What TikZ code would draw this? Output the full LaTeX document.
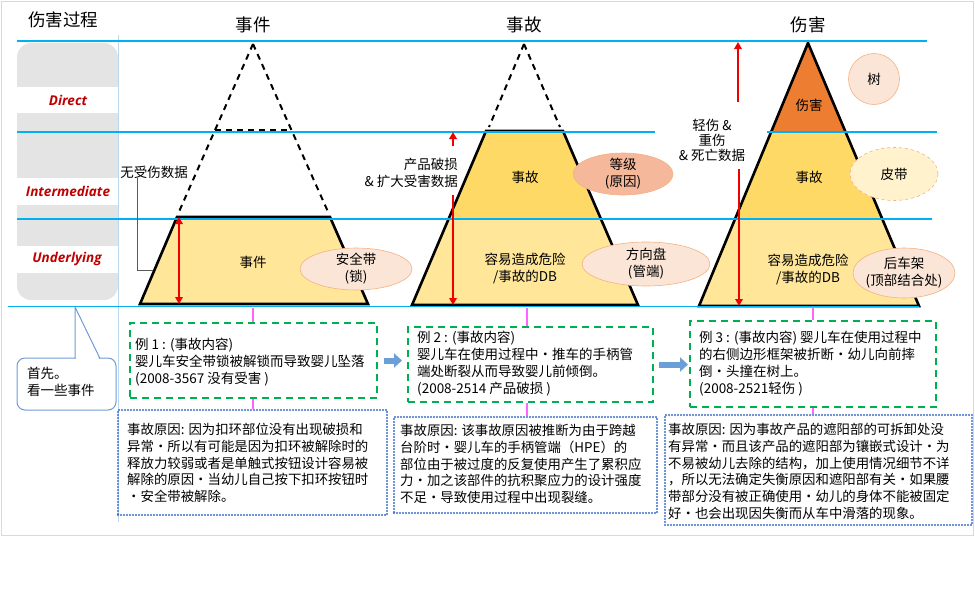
\documentclass[tikz,border=0pt]{standalone}
\usepackage{fontspec}
\setmainfont{Noto Sans CJK SC}
\newfontfamily\labfont{Open Sans}
\usetikzlibrary{arrows.meta,shapes.geometric}
\definecolor{skyline}{HTML}{00B0F0}
\definecolor{vline}{HTML}{BDD7EE}
\definecolor{framec}{HTML}{D9D9D9}
\definecolor{graycol}{HTML}{E4E4E4}
\definecolor{labred}{HTML}{C00000}
\definecolor{ylight}{HTML}{FFE699}
\definecolor{ymid}{HTML}{FFD966}
\definecolor{orangetop}{HTML}{ED7D31}
\definecolor{ellfill}{HTML}{FBE5D6}
\definecolor{ellline}{HTML}{F4B183}
\definecolor{ellsalmon}{HTML}{F5B89A}
\definecolor{ellyel}{HTML}{FFF2CC}
\definecolor{boxgreen}{HTML}{00B050}
\definecolor{boxblue}{HTML}{3F6FC8}
\definecolor{pinkc}{HTML}{FF66FF}
\definecolor{arrblue}{HTML}{6A9FD8}
\definecolor{callc}{HTML}{6F9BD6}
\definecolor{connc}{HTML}{595959}
\definecolor{redc}{HTML}{F00000}
\begin{document}
\begin{tikzpicture}[x=1pt,y=-1pt,
  txt/.style={font=\fontsize{13.5}{17}\selectfont, inner sep=0pt, align=left},
  ctxt/.style={font=\fontsize{13.5}{17}\selectfont, inner sep=0pt, align=center},
  btxt/.style={font=\fontsize{13.4}{16.8}\selectfont, inner sep=0pt, align=left},
  ttl/.style={font=\fontsize{17.5}{20}\selectfont, inner sep=0pt},
  lab/.style={font={\labfont\bfseries\itshape\fontsize{13.5}{16}\selectfont}, text=labred, inner sep=0pt},
  ell/.style={ellipse, draw=ellline, line width=0.6pt, fill=ellfill, inner sep=0pt},
  greenbox/.style={draw=boxgreen, line width=2pt, dash pattern=on 7pt off 5pt, inner sep=0pt},
  bluebox/.style={draw=boxblue, line width=2.1pt, dash pattern=on 0pt off 3pt, line cap=round, inner sep=0pt},
  pinkline/.style={draw=pinkc, line width=2pt},
  redarr/.style={draw=redc, line width=2.3pt, -{Triangle[length=7pt,width=7.5pt]}},
  redarr2/.style={draw=redc, line width=2.3pt, {Triangle[length=7pt,width=7.5pt]}-{Triangle[length=7pt,width=7.5pt]}},
  bluearrow/.style={draw=arrblue, line width=6pt, -{Triangle[length=8pt,width=14pt]}},
  skyl/.style={draw=skyline, line width=1.2pt},
  pyr/.style={draw=black, line width=2.6pt, line join=miter},
  pyrsep/.style={draw=black!80, line width=1.4pt},
  dashl/.style={draw=black, line width=2pt, dash pattern=on 6pt off 5pt},
  conn/.style={draw=connc, line width=1pt}]
\useasboundingbox (0,0) rectangle (975,600);
% frame
\draw[framec, line width=1pt] (1,1) rectangle (973,535);
% left label column
\fill[graycol, rounded corners=14pt] (17,43) rectangle (118,300);
\fill[white] (17,87) rectangle (118,113);
\fill[white] (17,178) rectangle (118,205);
\fill[white] (17,246) rectangle (118,273);
\draw[vline, line width=0.8pt] (118,35) -- (118,522);
\node[lab] (ldir) at (68,100) {Direct};
\node[lab] (lint) at (68,191) {Intermediate};
\node[lab] (lund) at (67,259) {Underlying};
% titles
\node[ttl] (t0) at (63,20) {伤害过程};
\node[ttl] (t1) at (253,25) {事件};
\node[ttl] (t2) at (524,25) {事故};
\node[ttl] (t3) at (808,25) {伤害};
% pyramid 1
\fill[ylight] (177,217) -- (330,217) -- (368,304) -- (140,304) -- cycle;
\draw[dashl] (253,44) -- (178,214);
\draw[dashl] (253,44) -- (329,214);
\draw[dashl] (215,130) -- (291,130);
\draw[pyr] (177,217) -- (330,217) -- (368,304) -- (140,304) -- cycle;
% pyramid 2
\fill[ymid] (486,131) -- (563,131) -- (600,218) -- (449,218) -- cycle;
\fill[ylight] (449,218) -- (600,218) -- (638,305) -- (412,305) -- cycle;
\draw[dashl] (524,44) -- (489,127);
\draw[dashl] (524,44) -- (560,127);
\draw[pyrsep] (449,219.5) -- (600,219.5);
\draw[pyr] (486,131) -- (563,131) -- (638,305) -- (412,305) -- cycle;
% pyramid 3
\fill[orangetop] (808,43) -- (845,132) -- (771,132) -- cycle;
\fill[ymid] (771,132) -- (845,132) -- (882,218) -- (736,218) -- cycle;
\fill[ylight] (736,218) -- (882,218) -- (919,306) -- (699,306) -- cycle;
\draw[pyrsep] (771,132) -- (845,132);
\draw[pyrsep] (736,219.5) -- (882,219.5);
\draw[pyr] (808,43) -- (919,306) -- (699,306) -- cycle;
% sky lines
\draw[skyl] (17,41) -- (927,41);
\draw[skyl] (17,132) -- (655,132);
\draw[skyl] (767,132) -- (937,132);
\draw[skyl] (17,219) -- (932,219);
\draw[skyl] (8,306.5) -- (919,306.5);
% pyramid texts
\node[txt] (p1t) at (253,262) {事件};
\node[txt] (p2t) at (525,177) {事故};
\node[ctxt] (p2d) at (525,268) {容易造成危险\\/事故的DB};
\node[txt] (p3h) at (809,105) {伤害};
\node[txt] (p3t) at (809,177) {事故};
\node[ctxt] (p3d) at (808,269) {容易造成危险\\/事故的DB};
% ellipses
\node[ell, minimum width=112, minimum height=42] (e1) at (356,269) {};
\node[ctxt] at (e1) {安全带\\(锁)};
\node[ell, fill=ellsalmon, minimum width=100, minimum height=42] (e2) at (623,174) {};
\node[ctxt] at (e2) {等级\\(原因)};
\node[ell, minimum width=128, minimum height=44] (e3) at (646,264) {};
\node[ctxt] at (e3) {方向盘\\(管端)};
\node[ell, minimum width=51, minimum height=51] (e4) at (874,79) {};
\node[txt] at (e4) {树};
\node[ell, fill=ellyel, dashed, minimum width=88, minimum height=53] (e5) at (894,174) {};
\node[txt] at (e5) {皮带};
\node[ell, minimum width=102, minimum height=50] (e6) at (904,273) {};
\node[ctxt] at (e6) {后车架\\(顶部结合处)};
% red arrows and notes
\coordinate (r1t) at (179,217);
\coordinate (r1b) at (179,304);
\draw[redarr2] (r1t) -- (r1b);
\node[txt] (nd) at (154,172) {无受伤数据};
\coordinate (e1edge) at (153,270);
\draw[conn] ([xshift=-17pt]nd.south) |- (e1edge);
\coordinate (r2a) at (453,146);
\coordinate (r2b) at (453,132);
\coordinate (r2c) at (453,195);
\coordinate (r2d) at (453,305);
\draw[redarr] (r2a) -- (r2b);
\draw[redarr] (r2c) -- (r2d);
\node[txt, align=right, anchor=east] (n2) at (458,172.5) {产品破损\\\& 扩大受害数据};
\coordinate (r3a) at (738,102);
\coordinate (r3b) at (738,42);
\coordinate (r3c) at (739,169);
\coordinate (r3d) at (739,306);
\draw[redarr] (r3a) -- (r3b);
\draw[redarr] (r3c) -- (r3d);
\node[ctxt, font=\fontsize{13.5}{15}\selectfont] (n3) at (712,140) {轻伤 \&\\重伤\\\& 死亡数据};
% boxes
\node[greenbox, minimum width=247, minimum height=75] (g1) at (253.5,360.5) {};
\node[greenbox, minimum width=245, minimum height=75] (g2) at (530.5,364.5) {};
\node[greenbox, minimum width=246, minimum height=86] (g3) at (813,364) {};
\node[bluebox, minimum width=269, minimum height=105] (b1) at (252.5,462.5) {};
\node[bluebox, minimum width=263, minimum height=96] (b2) at (525.5,465) {};
\node[bluebox, minimum width=307, minimum height=110] (b3) at (818.5,470) {};
% pink connectors
\coordinate (p1b) at (253,308);
\coordinate (p2b) at (527,308);
\coordinate (p3b) at (813,308);
\draw[pinkline] (p1b) -- (p1b |- g1.north);
\draw[pinkline] (p1b |- g1.south) -- (p1b |- b1.north);
\draw[pinkline] (p2b) -- (p2b |- g2.north);
\draw[pinkline] (p2b |- g2.south) -- (p2b |- b2.north);
\draw[pinkline] (p3b) -- (p3b |- g3.north);
\draw[pinkline] (p3b |- g3.south) -- (p3b |- b3.north);
% blue block arrows
\draw[bluearrow] ([xshift=6pt]g1.east) -- ([xshift=-5pt]g1.east -| g2.west);
\draw[bluearrow] ([xshift=5pt]g2.east) -- ([xshift=-1pt]g2.east -| g3.west);
% box texts
\node[txt, anchor=north west] (g1t) at (135,338) {例 1 : (事故内容)\\婴儿车安全带锁被解锁而导致婴儿坠落\\(2008-3567 没有受害 )};
\node[txt, anchor=north west] (g2t) at (417,331) {例 2 : (事故内容)\\婴儿车在使用过程中・推车的手柄管\\端处断裂从而导致婴儿前倾倒。\\(2008-2514 产品破损 )};
\node[txt, anchor=north west] (g3t) at (699,331) {例 3 : (事故内容) 婴儿车在使用过程中\\的右侧边形框架被折断・幼儿向前摔\\倒・头撞在树上。\\(2008-2521轻伤 )};
\node[btxt, anchor=north west] (b1t) at (127,423) {事故原因: 因为扣环部位没有出现破损和\\异常・所以有可能是因为扣环被解除时的\\释放力较弱或者是单触式按钮设计容易被\\解除的原因・当幼儿自己按下扣环按钮时\\・安全带被解除。};
\node[btxt, anchor=north west] (b2t) at (400,424) {事故原因: 该事故原因被推断为由于跨越\\台阶时・婴儿车的手柄管端（HPE）的\\部位由于被过度的反复使用产生了累积应\\力・加之该部件的抗积聚应力的设计强度\\不足・导致使用过程中出现裂缝。};
\node[btxt, anchor=north west] (b3t) at (668,423) {事故原因: 因为事故产品的遮阳部的可拆卸处没\\有异常・而且该产品的遮阳部为镶嵌式设计・为\\不易被幼儿去除的结构，加上使用情况细节不详\\，所以无法确定失衡原因和遮阳部有关・如果腰\\带部分没有被正确使用・幼儿的身体不能被固定\\好・也会出现因失衡而从车中滑落的现象。};
% callout
\node[draw=callc, line width=1pt, fill=white, rounded corners=8pt, minimum width=99, minimum height=52, inner sep=0pt] (cb) at (66.5,384) {};
\coordinate (ctip) at (75,307);
\fill[white] (75.6,360) -- (ctip) -- (99.4,360) -- cycle;
\draw[callc, line width=1pt, line join=round] (75,358.5) -- (ctip) -- (100,358.5);
\node[txt, anchor=north west] (cbt) at (27,367) {首先。\\看一些事件};
\end{tikzpicture}
\end{document}
